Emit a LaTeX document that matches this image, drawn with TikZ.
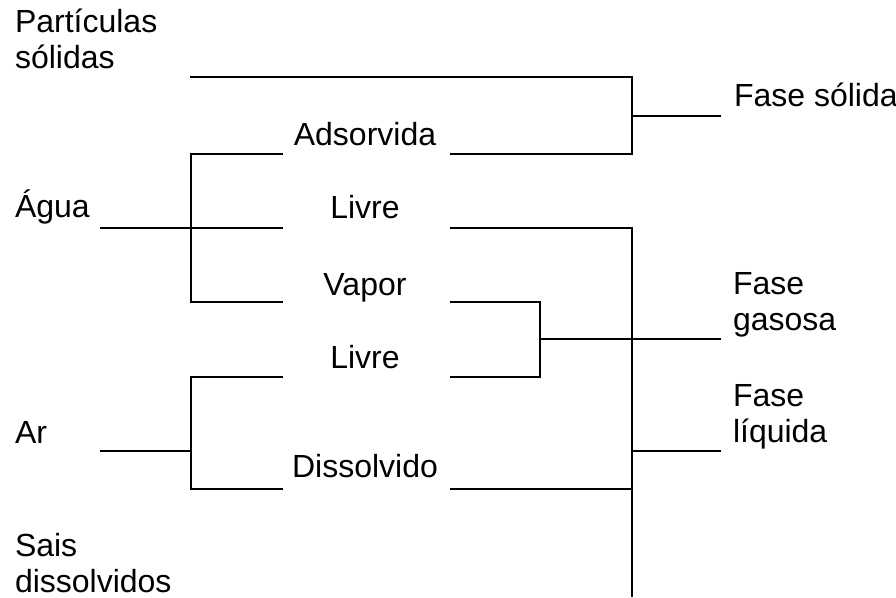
\documentclass[tikz,border=0pt]{standalone}
\usepackage{fontspec}
\setmainfont{Liberation Sans}
\begin{document}
\begin{tikzpicture}[x=1pt,y=-1pt,
  lbl/.style={inner sep=0pt,outer sep=0pt,font=\fontsize{32}{35.5}\selectfont},
  lft/.style={lbl,anchor=base west,align=left},
  mid/.style={lbl,anchor=base},
  ln/.style={line width=1.6pt,line cap=butt}]
\useasboundingbox (0,0) rectangle (896,597);
% texts (base anchor = last line's baseline)
\node[lft] (part) at (15,68) {Partículas\\sólidas};
\node[lft] (agua) at (15,217) {Água};
\node[lft] (ar) at (15,443) {Ar};
\node[lft] (sais) at (15,592) {Sais\\dissolvidos};
\node[mid] (ads) at (365,145) {Adsorvida};
\node[mid] (liv1) at (365,218) {Livre};
\node[mid] (vap) at (365,295) {Vapor};
\node[mid] (liv2) at (365,368) {Livre};
\node[mid] (dis) at (365,477) {Dissolvido};
\node[lft] (fsol) at (734,106) {Fase sólida};
\node[lft] (fgas) at (733,330) {Fase\\gasosa};
\node[lft] (fliq) at (733,442) {Fase\\líquida};
% coordinates
\coordinate (pA) at (190,77);
\coordinate (jS) at (632,77);
\coordinate (jSm) at (632,116);
\coordinate (oS) at (721,116);
\coordinate (aL) at (450,154);
\coordinate (jSb) at (632,154);
\coordinate (gA) at (100,228);
\coordinate (bA) at (191,228);
\coordinate (bAt) at (191,154);
\coordinate (bAb) at (191,302);
\coordinate (eAt) at (283,154);
\coordinate (eAm) at (283,228);
\coordinate (eAb) at (283,302);
\coordinate (l1) at (450,228);
\coordinate (jL) at (632,228);
\coordinate (jLb) at (632,597);
\coordinate (v1) at (450,302);
\coordinate (jV) at (540,302);
\coordinate (jVb) at (540,377);
\coordinate (l2) at (450,377);
\coordinate (jVm) at (540,339);
\coordinate (oG) at (721,339);
\coordinate (gR) at (100,451);
\coordinate (bR) at (191,451);
\coordinate (bRt) at (191,377);
\coordinate (bRb) at (191,489);
\coordinate (eRt) at (283,377);
\coordinate (eRb) at (283,489);
\coordinate (dR) at (450,489);
\coordinate (jD) at (632,489);
\coordinate (jQ) at (632,451);
\coordinate (oQ) at (721,451);
% connectors
\draw[ln] (pA) -- (jS) -- (jSb) -- (aL);
\draw[ln] (jSm) -- (oS);
\draw[ln] (gA) -- (bA) -- (eAm);
\draw[ln] (eAt) -- (bAt) -- (bAb) -- (eAb);
\draw[ln] (l1) -- (jL) -- (jLb);
\draw[ln] (v1) -- (jV) -- (jVb) -- (l2);
\draw[ln] (jVm) -- (oG);
\draw[ln] (gR) -- (bR);
\draw[ln] (eRt) -- (bRt) -- (bRb) -- (eRb);
\draw[ln] (dR) -- (jD);
\draw[ln] (jQ) -- (oQ);
\end{tikzpicture}
\end{document}
